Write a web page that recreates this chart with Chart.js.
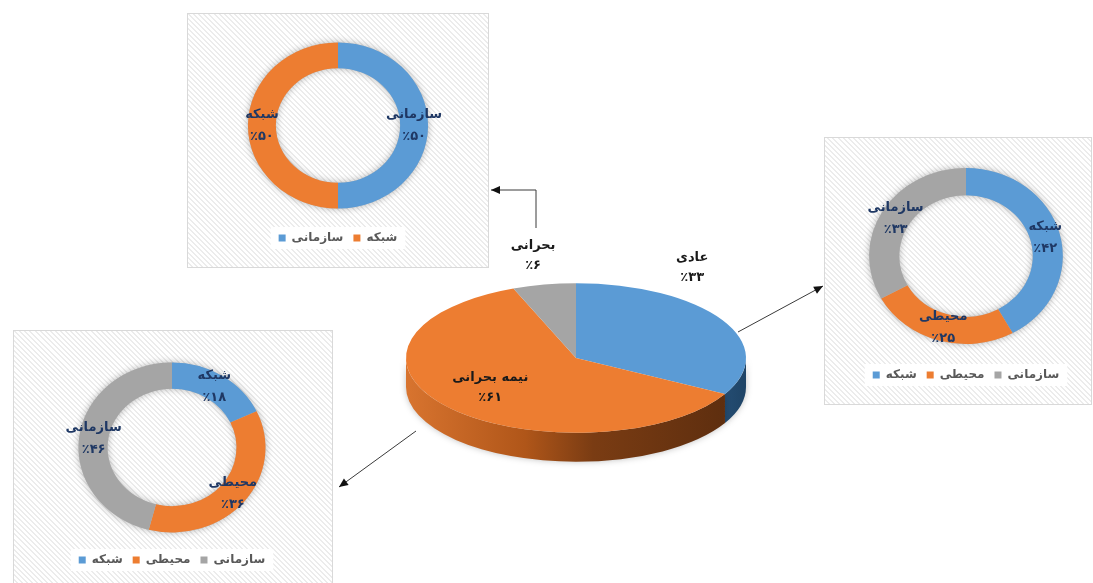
<!DOCTYPE html>
<html lang="fa">
<head>
<meta charset="utf-8">
<title>سطح بحرانی</title>
<script src="https://cdn.jsdelivr.net/npm/chart.js@4.4.1/dist/chart.umd.min.js"></script>
<style>
  html, body { margin: 0; padding: 0; background: #fff; }
  body { width: 1093px; height: 583px; position: relative; overflow: hidden; font-family: "DejaVu Sans", sans-serif; }
  .panel {
    position: absolute; box-sizing: border-box; border: 1px solid #d9d9d9;
    background-color: #fff;
    background-image: repeating-linear-gradient(45deg, #fff 0px, #fff 2.2px, #ececec 2.2px, #ececec 3.6px);
  }
  .panel canvas { position: absolute; left: 0; top: 0; }
  #main { position: absolute; left: 0; top: 0; }
</style>
</head>
<body>
<div class="panel" style="left:187px; top:13px; width:302px; height:255px;"><canvas id="critical" width="300" height="253"></canvas></div>
<div class="panel" style="left:824px; top:137px; width:268px; height:268px;"><canvas id="normal" width="266" height="266"></canvas></div>
<div class="panel" style="left:13px; top:330px; width:320px; height:260px;"><canvas id="semi" width="318" height="258"></canvas></div>
<canvas id="main" width="1093" height="583"></canvas>

<script>
// overall split by level
const mainLabels = ['عادی', 'نیمه بحرانی', 'بحرانی'];
const mainValues = [33, 61, 6];

// breakdown of each level
const criticalLabels = ['سازمانی', 'شبکه'];
const criticalValues = [50, 50];
const normalLabels = ['شبکه', 'محیطی', 'سازمانی'];
const normalValues = [42, 25, 33];
const semiLabels = ['شبکه', 'محیطی', 'سازمانی'];
const semiValues = [18, 36, 46];

const BLUE = '#5b9bd5', ORANGE = '#ed7d31', GRAY = '#a5a5a5';
const FONT = '"DejaVu Sans", sans-serif';

const faDigits = '۰۱۲۳۴۵۶۷۸۹';
function fa(n) {
  return String(n).replace(/\d/g, d => faDigits[d]);
}

// labels drawn at the centre of each slice (name above, percent below)
const sliceLabels = {
  id: 'sliceLabels',
  afterDraw(chart, args, opts) {
    const ctx = chart.ctx;
    const meta = chart.getDatasetMeta(0);
    const values = chart.data.datasets[0].data;
    const sx = opts.sx || 1, sy = opts.sy || 1;
    ctx.save();
    ctx.font = 'bold 13px ' + FONT;
    ctx.fillStyle = opts.color;
    ctx.textAlign = 'center';
    ctx.textBaseline = 'middle';
    meta.data.forEach((arc, i) => {
      const p = arc.getCenterPoint();
      const off = (opts.offsets && opts.offsets[i]) || [0, 0];
      const x = arc.x + (p.x - arc.x) * sx + off[0];
      const y = arc.y + (p.y - arc.y) * sy + off[1];
      ctx.fillText(chart.data.labels[i], x, y - opts.gap);
      ctx.fillText('٪' + fa(values[i]), x, y + opts.gap);
    });
    ctx.restore();
  }
};

// donut drawn slightly wide, with a soft shadow ring underneath
const donutShape = {
  id: 'donutShape',
  beforeDraw(chart) {
    const lg = chart.legend;
    if (!lg || !lg.legendHitBoxes.length) return;
    const boxes = lg.legendHitBoxes;
    const left = Math.min(...boxes.map(b => b.left)) - 8;
    const right = Math.max(...boxes.map(b => b.left + b.width)) + 8;
    const top = boxes[0].top - 5;
    const ctx = chart.ctx;
    ctx.save();
    ctx.fillStyle = '#fff';
    ctx.fillRect(left, top, right - left, boxes[0].height + 10);
    ctx.restore();
  },
  beforeDatasetsDraw(chart, args, opts) {
    const ctx = chart.ctx;
    const a = chart.getDatasetMeta(0).data[0];
    ctx.save();
    ctx.translate(a.x, a.y);
    ctx.scale(opts.sx, 1);
    ctx.translate(-a.x, -a.y);
    ctx.save();
    ctx.shadowColor = 'rgba(0,0,0,0.3)';
    ctx.shadowBlur = 7;
    ctx.beginPath();
    ctx.arc(a.x, a.y, a.outerRadius, 0, Math.PI * 2);
    ctx.arc(a.x, a.y, a.innerRadius, 0, Math.PI * 2, true);
    ctx.fillStyle = '#bbb';
    ctx.fill();
    ctx.restore();
  },
  afterDatasetsDraw(chart) {
    chart.ctx.restore();
  }
};

function donut(id, labels, values, colors, radius, sx, pad) {
  return new Chart(document.getElementById(id), {
    type: 'doughnut',
    data: {
      labels: labels,
      datasets: [{ data: values, backgroundColor: colors, borderWidth: 0, clip: false }]
    },
    options: {
      responsive: false,
      animation: false,
      events: [],
      radius: radius,
      cutout: '69%',
      layout: { padding: pad },
      plugins: {
        tooltip: { enabled: false },
        legend: {
          position: 'bottom',
          labels: {
            boxWidth: 7, boxHeight: 7, padding: 10,
            color: '#595959',
            font: { family: FONT, size: 12, weight: 'bold' }
          }
        },
        donutShape: { sx: sx },
        sliceLabels: { sx: sx, sy: 1, gap: 11, color: '#1f3864' }
      }
    },
    plugins: [donutShape, sliceLabels]
  });
}

donut('critical', criticalLabels, criticalValues, [BLUE, ORANGE], 83, 1.085,
  { left: 0, right: 0, top: 15, bottom: 13 });
donut('normal', normalLabels, normalValues, [BLUE, ORANGE, GRAY], 88, 1.1,
  { left: 16, right: 0, top: 15, bottom: 13 });
donut('semi', semiLabels, semiValues, [BLUE, ORANGE, GRAY], 85, 1.1,
  { left: 0, right: 2, top: 20, bottom: 13 });

// tilted pie: squash the top face and draw the visible side wall
const pie3d = {
  id: 'pie3d',
  beforeDatasetsDraw(chart, args, opts) {
    const ctx = chart.ctx;
    const arcs = chart.getDatasetMeta(0).data;
    const cx = arcs[0].x, cy = arcs[0].y, R = arcs[0].outerRadius;
    const ry = R * opts.squash;
    ctx.save();
    ctx.shadowColor = 'rgba(0,0,0,0.25)';
    ctx.shadowBlur = 6;
    arcs.forEach((a, i) => {
      const s = Math.max(a.startAngle, 0);
      const e = Math.min(a.endAngle, Math.PI);
      if (e <= s) return;
      const g = ctx.createLinearGradient(cx - R, 0, cx + R, 0);
      opts.sides[i].forEach(st => g.addColorStop(st[0], st[1]));
      ctx.beginPath();
      ctx.ellipse(cx, cy, R, ry, 0, s, e);
      ctx.ellipse(cx, cy + opts.depth, R, ry, 0, e, s, true);
      ctx.closePath();
      ctx.fillStyle = g;
      ctx.fill();
    });
    ctx.restore();
    ctx.save();
    ctx.translate(cx, cy);
    ctx.scale(1, opts.squash);
    ctx.translate(-cx, -cy);
  },
  afterDatasetsDraw(chart) {
    chart.ctx.restore();
  }
};

// connectors from the pie to the breakdown panels
const connectors = [
  [[536, 228], [536, 190], [491, 190]],
  [[738, 332], [823, 286]],
  [[416, 431], [339, 487]]
];
const arrows = {
  id: 'arrows',
  afterDraw(chart) {
    const ctx = chart.ctx;
    ctx.save();
    ctx.strokeStyle = '#3a3a3a';
    ctx.fillStyle = '#111';
    ctx.lineWidth = 1;
    connectors.forEach(pts => {
      ctx.beginPath();
      ctx.moveTo(pts[0][0], pts[0][1]);
      pts.slice(1).forEach(p => ctx.lineTo(p[0], p[1]));
      ctx.stroke();
      const [x1, y1] = pts[pts.length - 2];
      const [x2, y2] = pts[pts.length - 1];
      const ang = Math.atan2(y2 - y1, x2 - x1);
      ctx.beginPath();
      ctx.moveTo(x2, y2);
      ctx.lineTo(x2 - 9 * Math.cos(ang) + 4 * Math.sin(ang), y2 - 9 * Math.sin(ang) - 4 * Math.cos(ang));
      ctx.lineTo(x2 - 9 * Math.cos(ang) - 4 * Math.sin(ang), y2 - 9 * Math.sin(ang) + 4 * Math.cos(ang));
      ctx.closePath();
      ctx.fill();
    });
    ctx.restore();
  }
};

new Chart(document.getElementById('main'), {
  type: 'pie',
  data: {
    labels: mainLabels,
    datasets: [{ data: mainValues, backgroundColor: [BLUE, ORANGE, GRAY], borderWidth: 0, clip: false }]
  },
  options: {
    responsive: false,
    animation: false,
    events: [],
    layout: { padding: { left: 406, right: 347, top: 188, bottom: 55 } },
    plugins: {
      legend: { display: false },
      tooltip: { enabled: false },
      pie3d: {
        squash: 0.44,
        depth: 29,
        sides: [
          [[0, '#4a84bb'], [0.8, '#2f5f8e'], [1, '#1f4466']],
          [[0, '#d8742f'], [0.35, '#b05619'], [0.55, '#7a3c13'], [1, '#5a2c0e']],
          [[0, '#8a8a8a'], [1, '#5a5a5a']]
        ]
      },
      sliceLabels: {
        sx: 1, sy: 0.44, gap: 10, color: '#1a1a1a',
        offsets: [[43, -71], [-22, 5], [-27, -66]]
      }
    }
  },
  plugins: [pie3d, sliceLabels, arrows]
});
</script>
</body>
</html>
